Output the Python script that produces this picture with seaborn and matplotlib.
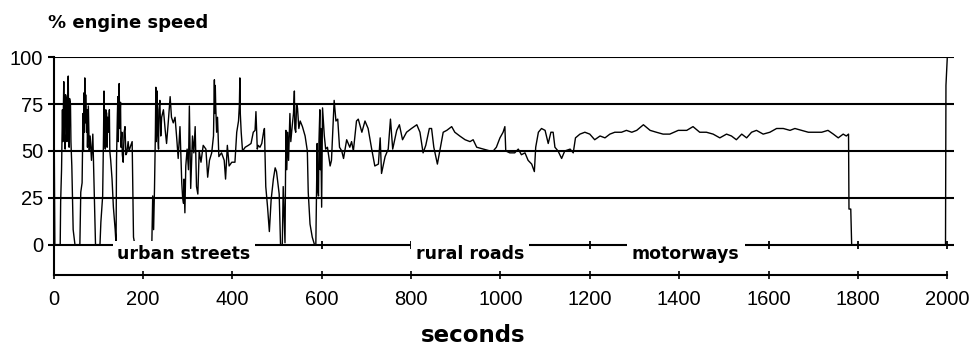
import pandas as pd
import seaborn as sns
import matplotlib
matplotlib.use('Agg')
import matplotlib.pyplot as plt

# ----- Data: (seconds, % engine speed) -----
urban = [(0, 100), (1, 79), (3, 0), (15, 0), (16, 23), (18, 40), (20, 72), (21, 55), (23, 87),
         (24, 60), (26, 51), (27, 80), (29, 77), (30, 55), (32, 85), (33, 90), (34, 60),
         (35, 52), (36, 78), (38, 75), (39, 55), (41, 42), (44, 8), (48, 0), (59, 0),
         (61, 28), (64, 33), (66, 70), (67, 50), (68, 81), (69, 60), (70, 89), (71, 65),
         (72, 80), (74, 60), (75, 72), (76, 52), (78, 74), (80, 50), (82, 58), (85, 45),
         (88, 59), (91, 29), (94, 0), (104, 0), (106, 12), (110, 26), (112, 60), (113, 82),
         (114, 55), (116, 51), (117, 72), (119, 70), (120, 52), (121, 68), (123, 60),
         (125, 72), (126, 50), (128, 45), (131, 35), (134, 20), (138, 8), (140, 0),
         (141, 45), (143, 70), (144, 79), (145, 55), (147, 86), (148, 62), (150, 76),
         (151, 52), (153, 60), (154, 48), (156, 44), (158, 60), (160, 63), (162, 48),
         (164, 49), (167, 55), (169, 50), (173, 53), (176, 55), (179, 4), (182, 0),
         (220, 0), (222, 26), (224, 8), (226, 30), (228, 60), (229, 84), (230, 55),
         (232, 82), (233, 60), (235, 51), (236, 72), (238, 77), (240, 58), (242, 68),
         (246, 72), (250, 61), (253, 54), (257, 66), (261, 79), (264, 68), (268, 65),
         (272, 68), (276, 56), (279, 46), (283, 63), (287, 33), (289, 25), (291, 22),
         (292, 35), (294, 17), (296, 42), (299, 51), (302, 40), (304, 74), (307, 30),
         (311, 58), (314, 49), (317, 63), (320, 31), (323, 27), (326, 50), (330, 44),
         (335, 53), (341, 51), (345, 36), (349, 45), (354, 49), (358, 58), (360, 88),
         (361, 70), (362, 85), (363, 74), (365, 60), (367, 68), (370, 47), (376, 49),
         (382, 45), (385, 35), (389, 53), (393, 42), (399, 44), (406, 44), (410, 60),
         (414, 66), (416, 75), (417, 89), (418, 70), (420, 60), (423, 50), (429, 52),
         (436, 53), (442, 54), (447, 60), (451, 61), (453, 71), (456, 51), (458, 53),
         (462, 52), (466, 54), (470, 60), (472, 62), (475, 31), (479, 20), (483, 7),
         (487, 24), (492, 35), (496, 41), (499, 39), (505, 27), (508, 0), (512, 0),
         (514, 31), (518, 1), (520, 61), (522, 40), (524, 60), (526, 45), (529, 70),
         (531, 55), (534, 63), (537, 70), (539, 82), (540, 62), (542, 60), (544, 75),
         (546, 73), (549, 62), (552, 66), (557, 63), (563, 58), (568, 50), (570, 28),
         (574, 11), (579, 4), (584, 0), (587, 0), (590, 54), (591, 30), (593, 26),
         (594, 55), (596, 72), (597, 40), (598, 62), (600, 20)]

rural = [(602, 73), (606, 58), (609, 51), (613, 52), (619, 42), (622, 45), (628, 77),
         (632, 66), (636, 67), (640, 52), (645, 50), (649, 46), (656, 56), (663, 52),
         (667, 55), (671, 50), (678, 66), (682, 67), (690, 60), (697, 66), (704, 62),
         (712, 51), (719, 42), (727, 43), (731, 57), (734, 38), (742, 47), (749, 51),
         (754, 67), (759, 51), (768, 61), (774, 64), (781, 56), (790, 60), (801, 62),
         (813, 64), (820, 60), (827, 49), (833, 53), (841, 62), (846, 62), (851, 52),
         (859, 43), (865, 51), (872, 60), (880, 61), (891, 63), (898, 60), (909, 58),
         (921, 56), (932, 55), (939, 56), (947, 52), (962, 51), (977, 50), (984, 50),
         (991, 52), (999, 57), (1006, 60), (1010, 63), (1012, 50), (1021, 49), (1032, 49),
         (1040, 51), (1047, 48), (1055, 49), (1062, 45), (1070, 43), (1076, 39), (1079, 52),
         (1085, 60), (1092, 62), (1100, 61), (1107, 54), (1113, 60), (1118, 60), (1122, 52),
         (1129, 50), (1137, 46), (1144, 50), (1156, 51), (1163, 49), (1168, 57), (1178, 59),
         (1189, 60)]

motorway = [(1200, 59), (1211, 56), (1223, 58), (1234, 57), (1245, 59), (1256, 60),
            (1271, 60), (1282, 61), (1294, 60), (1305, 61), (1320, 64), (1335, 61),
            (1349, 60), (1364, 59), (1379, 59), (1398, 61), (1417, 61), (1431, 63),
            (1446, 60), (1461, 60), (1476, 59), (1491, 57), (1506, 59), (1517, 58),
            (1528, 56), (1540, 59), (1551, 57), (1562, 60), (1573, 61), (1588, 59),
            (1603, 60), (1618, 62), (1633, 62), (1648, 61), (1659, 62), (1674, 61),
            (1689, 60), (1704, 60), (1719, 60), (1733, 61), (1745, 59), (1756, 57),
            (1767, 59), (1774, 58), (1779, 59), (1780, 19), (1784, 19), (1786, 0),
            (1996, 0), (1997, 85), (2000, 100)]

section_labels = ['urban streets', 'rural roads', 'motorways']
section_centers = [292, 932, 1415]
section_ticks = [0, 600, 800, 1200, 1600, 1800, 2000]

y_ticks = [0, 25, 50, 75, 100]
x_ticks = list(range(0, 2001, 200))

df = pd.DataFrame(urban + rural + motorway, columns=['seconds', 'speed'])

# ----- Figure -----
sns.set_style('ticks')
plt.rcParams['font.family'] = ['DejaVu Sans']
plt.rcParams['text.color'] = 'black'

fig = plt.figure(figsize=(9.74, 3.46), dpi=100)
ax = fig.add_axes([53.5 / 974, 71 / 346, 900.5 / 974, 217.7 / 346])

sns.lineplot(data=df, x='seconds', y='speed', color='black', linewidth=1.0,
             estimator=None, sort=False, ax=ax, zorder=3)

ax.set_xlim(0, 2015)
ax.set_ylim(-16.2, 100)
ax.set_xticks(x_ticks)
ax.set_yticks(y_ticks)
ax.set_xlabel('')
ax.set_ylabel('')

# Horizontal grid in black
ax.yaxis.grid(True, color='black', linewidth=1.5, zorder=1)
ax.set_axisbelow(True)

sns.despine(ax=ax, top=True, right=True)
for side in ['left', 'bottom']:
    ax.spines[side].set_linewidth(1.5)
    ax.spines[side].set_color('black')
ax.spines['bottom'].set_bounds(0, 2000)

ax.tick_params(axis='y', direction='out', length=4.5, width=1.5, pad=3, colors='black')
ax.tick_params(axis='x', direction='inout', length=6, width=1.2, pad=8, colors='black')
for lab in ax.get_xticklabels() + ax.get_yticklabels():
    lab.set_family('Liberation Sans')
    lab.set_fontsize(14.5)

# Section markers on the zero line
ax.plot(section_ticks, [0] * len(section_ticks), linestyle='none', marker='|',
        markersize=6, markeredgewidth=1.3, color='black', zorder=4, clip_on=False)

for lab, x in zip(section_labels, section_centers):
    ax.text(x, -5.2, lab, ha='center', va='center', fontsize=12.5, fontweight='bold',
            color='black', zorder=5,
            bbox=dict(facecolor='white', edgecolor='none', pad=3.5))

fig.text(48 / 974, 1 - 28 / 346, '% engine speed', fontsize=13, fontweight='bold',
         color='black', ha='left', va='baseline')
fig.text(473 / 974, 1 - 342 / 346, 'seconds', fontsize=16.5, fontweight='bold',
         color='black', ha='center', va='baseline')

fig.savefig('out.png', dpi=100, facecolor='white')
